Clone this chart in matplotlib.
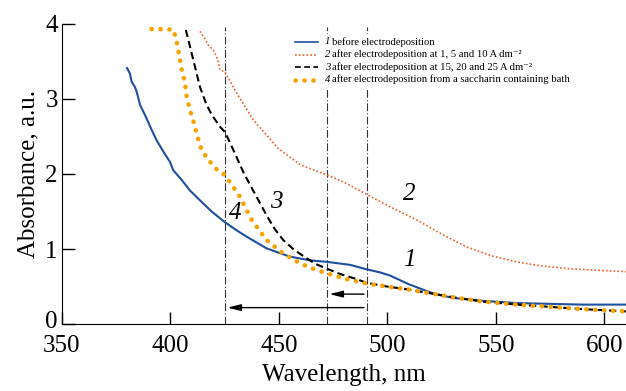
import numpy as np
import matplotlib
matplotlib.use("Agg")
import matplotlib.pyplot as plt
import matplotlib.transforms as mtransforms
from matplotlib.lines import Line2D
from matplotlib.patches import Rectangle

plt.rcParams['font.family'] = ['Liberation Serif', 'DejaVu Serif']

# curve 1: before electrodeposition
w1 = [380, 381.3, 382.1, 383.6, 384.4, 386, 388.2, 389, 391.3, 393.6, 396.7, 399.8,
      401.3, 405.2, 409, 413.6, 419, 425, 431, 436.6, 444.3, 450, 455, 464.3, 472,
      482.7, 490.5, 496.5, 501, 510, 521, 530, 544, 560, 575, 590, 610]
a1 = [3.41, 3.34, 3.23, 3.16, 3.10, 2.92, 2.79, 2.74, 2.59, 2.45, 2.30, 2.16,
      2.05, 1.92, 1.78, 1.65, 1.50, 1.36, 1.24, 1.14, 1.01, 0.95, 0.90, 0.85, 0.83,
      0.79, 0.73, 0.69, 0.65, 0.53, 0.41, 0.35, 0.31, 0.28, 0.27, 0.26, 0.26]

# curve 2: 1, 5, 10 A dm-2
w2 = [413.6, 415.5, 417.4, 419.7, 421, 422, 422.8, 425.1, 430.5, 438.2, 449.7, 460,
      472, 480, 490.4, 500, 513.4, 525, 536.5, 548, 559.5, 570, 582.6, 595, 610]
a2 = [3.90, 3.82, 3.72, 3.65, 3.58, 3.50, 3.39, 3.36, 3.08, 2.72, 2.34, 2.12,
      1.99, 1.89, 1.73, 1.58, 1.39, 1.20, 1.03, 0.91, 0.83, 0.78, 0.74, 0.72, 0.70]

# curve 3: 15, 20, 25 A dm-2
w3 = [407.1, 409, 411.3, 413.6, 416.4, 419, 422.8, 425.1, 429, 434, 437, 440, 444.3,
      448, 452, 457, 462.7, 467, 472, 478, 485.8, 490.5, 500, 510, 520, 530, 544,
      560, 575, 590, 610]
a3 = [3.92, 3.70, 3.43, 3.16, 2.94, 2.79, 2.63, 2.56, 2.32, 2.00, 1.84, 1.68, 1.45,
      1.27, 1.12, 0.99, 0.88, 0.80, 0.74, 0.67, 0.60, 0.55, 0.50, 0.46, 0.41, 0.36, 0.30,
      0.26, 0.23, 0.20, 0.17]

# curve 4: saccharin containing bath
w4 = [391.3, 395, 398, 401, 402.4, 403.6, 405.2, 406.7, 407.5, 409, 410.8, 412.4,
      414.4, 417.4, 422, 425, 432, 437.4, 444.3, 452, 459.7, 467.4, 479.6, 490.5,
      500, 510, 520, 530, 544, 560, 575, 590, 610]
a4 = [3.93, 3.93, 3.92, 3.93, 3.83, 3.65, 3.39, 3.21, 3.03, 2.85, 2.68, 2.50,
      2.32, 2.19, 2.04, 1.99, 1.70, 1.39, 1.12, 0.94, 0.81, 0.72, 0.61, 0.54,
      0.50, 0.46, 0.41, 0.36, 0.30, 0.26, 0.23, 0.20, 0.17]

nums = ['1', '2', '3', '4']
labels = ['before electrodeposition',
          'after electrodeposition at 1, 5 and 10 A dm\u207b\u00b2',
          'after electrodeposition at 15, 20 and 25 A dm\u207b\u00b2',
          'after electrodeposition from a saccharin containing bath']

vlines = [425, 472, 490.5]

W, H = 626, 391
fig = plt.figure(figsize=(W / 100, H / 100), dpi=100)
ax = fig.add_axes([0.099, 0.171, 0.901, 0.768])

styles = [dict(color='#1f4f9f', lw=1.5),
          dict(color='#f0602a', lw=1.2, ls=(0, (1, 1.3))),
          dict(color='black', lw=1.5, ls=(0, (3.5, 2))),
          dict(color='#f5a300', lw=3.3, ls=(0, (0.05, 1.9)), dash_capstyle='round')]

for (w, a), st in zip([(w1, a1), (w2, a2), (w3, a3), (w4, a4)], styles):
    ax.plot(w, a, **st)

for v in vlines:
    ax.axvline(v, ymin=0, ymax=0.99, color='#333333', lw=0.8, ls=(0, (7, 2, 1, 2)), zorder=1)

# arrows
ax.annotate('', xy=(vlines[0], 0.22), xytext=(vlines[2], 0.22),
            arrowprops=dict(arrowstyle='-|>,head_length=0.8,head_width=0.2', color='black', lw=1))
ax.annotate('', xy=(vlines[1], 0.40), xytext=(vlines[2], 0.40),
            arrowprops=dict(arrowstyle='-|>,head_length=0.8,head_width=0.2', color='black', lw=1))

# curve numbers
for txt, x, y in [('1', 510, 0.85), ('2', 510, 1.74), ('3', 448.6, 1.63), ('4', 429.7, 1.48)]:
    ax.text(x, y, txt, fontsize=18, style='italic', ha='center', va='center')

# legend drawn by hand (pixel positions -> figure fraction)
fx = lambda px: px / W
fy = lambda py: 1 - py / H
fig.add_artist(Rectangle((fx(290), fy(88)), fx(582) - fx(290), fy(34) - fy(88),
                         transform=fig.transFigure, facecolor='white', edgecolor='none', zorder=4))
rows = [42, 54.5, 67, 79.5]
for n, lab, st, r in zip(nums, labels, styles, rows):
    st = dict(st)
    if st['lw'] < 3:
        st['lw'] = 1.2
    fig.add_artist(Line2D([fx(295), fx(318)], [fy(r), fy(r)], transform=fig.transFigure,
                          zorder=5, **st))
    fig.text(fx(325), fy(r), n, fontsize=7.7, style='italic', va='center', ha='left', zorder=5)
    fig.text(fx(332), fy(r), lab, fontsize=7.7, va='center', ha='left', zorder=5)

ax.set_xlim(350, 610)
ax.set_ylim(0, 4)
ax.set_xticks([350, 400, 450, 500, 550, 600])
ax.set_yticks([0, 1, 2, 3, 4])
ax.spines['top'].set_visible(False)
ax.spines['right'].set_visible(False)
ax.tick_params(direction='in', length=9, width=1, labelsize=18, pad=3)
ax.tick_params(axis='x', pad=8)
ax.set_xlabel('Wavelength, nm', fontsize=18, labelpad=5)
ax.set_ylabel('Absorbance, a.u.', fontsize=18, labelpad=4)

# lift the "0" a little so it sits clear of "350", as in the original
t0 = ax.yaxis.get_major_ticks()[0].label1
t0.set_transform(t0.get_transform() + mtransforms.ScaledTranslation(0, 3 / 72, fig.dpi_scale_trans))

fig.savefig('out.png', dpi=100)
